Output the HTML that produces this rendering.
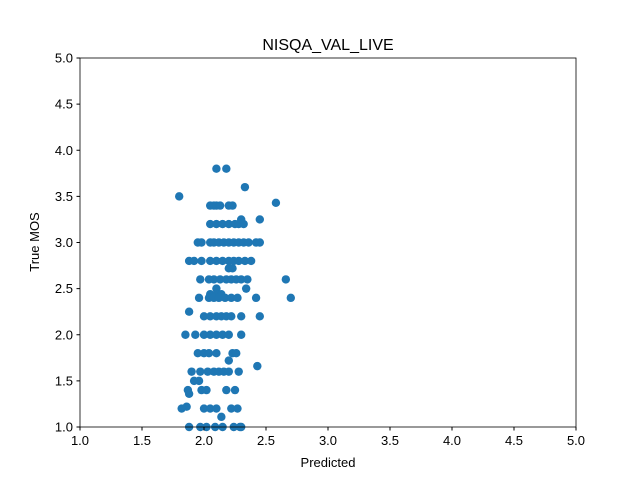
<!DOCTYPE html>
<html><head><meta charset="utf-8"><style>
body{margin:0;background:#fff}
svg text{font-family:"Liberation Sans","DejaVu Sans",sans-serif;}
</style></head><body>
<svg id="chart" width="640" height="480" xmlns="http://www.w3.org/2000/svg">
<rect width="640" height="480" fill="#fff"/>
<text x="328" y="50" font-size="16" text-anchor="middle">NISQA_VAL_LIVE</text>
<g id="points"></g>
<g id="axes"></g>
<text x="328" y="467" font-size="13" text-anchor="middle">Predicted</text>
<text x="39" y="242" font-size="13" text-anchor="middle" transform="rotate(-90 39 242)">True MOS</text>
</svg>
<script>
const rowsY = [3.8,3.6,3.5,3.43,3.4,3.25,3.2,3.0,2.8,2.72,2.6,2.5,2.44,2.4,2.25,2.2,2.0,1.8,1.72,1.66,1.6,1.5,1.4,1.36,1.22,1.2,1.11,1.0];
const rowsX = [
[2.1,2.18],[2.33],[1.8],[2.58],
[2.05,2.08,2.1,2.13,2.2,2.23],
[2.3,2.45],
[2.05,2.1,2.15,2.2,2.25,2.28,2.32],
[1.95,1.98,2.05,2.08,2.12,2.16,2.2,2.24,2.28,2.32,2.36,2.42,2.45],
[1.88,1.92,1.98,2.05,2.1,2.15,2.2,2.24,2.28,2.33,2.38],
[2.2,2.23],
[1.97,2.04,2.08,2.13,2.18,2.22,2.26,2.3,2.35,2.66],
[2.1,2.34],
[2.05,2.1,2.14],
[1.96,2.04,2.08,2.12,2.17,2.22,2.27,2.42,2.7],
[1.88],
[2.0,2.05,2.1,2.14,2.18,2.22,2.3,2.45],
[1.85,1.93,2.0,2.05,2.1,2.15,2.2,2.3],
[1.95,2.0,2.04,2.1,2.23,2.26],
[2.2],[2.43],
[1.9,1.97,2.03,2.08,2.12,2.16,2.2,2.28],
[1.92,1.96],
[1.87,1.98,2.02,2.18,2.25],
[1.88],[1.86],
[1.82,2.0,2.05,2.1,2.22,2.27],
[2.14],
[1.88,1.97,2.02,2.09,2.15,2.24,2.29,2.3]
];
const xTicks = [1.0,1.5,2.0,2.5,3.0,3.5,4.0,4.5,5.0];
const yTicks = [1.0,1.5,2.0,2.5,3.0,3.5,4.0,4.5,5.0];
const L=80,R=576,T=58,B=427;
const sx=v=>L+(v-1)/4*(R-L);
const sy=v=>B-(v-1)/4*(B-T);
const NS="http://www.w3.org/2000/svg";
const pg=document.getElementById('points');
rowsY.forEach((y,i)=>rowsX[i].forEach(x=>{
  const c=document.createElementNS(NS,'circle');
  c.setAttribute('cx',sx(x));c.setAttribute('cy',sy(y));c.setAttribute('r',4.2);c.setAttribute('fill','#1f77b4');
  
  
  pg.appendChild(c);
}));
const ag=document.getElementById('axes');
const fr=document.createElementNS(NS,'rect');
fr.setAttribute('x',L);fr.setAttribute('y',T);fr.setAttribute('width',R-L);fr.setAttribute('height',B-T);
fr.setAttribute('fill','none');fr.setAttribute('stroke','#000');fr.setAttribute('stroke-width','0.8');


ag.appendChild(fr);
xTicks.forEach(t=>{
  const l=document.createElementNS(NS,'line');
  l.setAttribute('x1',sx(t));l.setAttribute('x2',sx(t));l.setAttribute('y1',B);l.setAttribute('y2',B+3.5);l.setAttribute('stroke','#000');
  
  
  ag.appendChild(l);
  const tx=document.createElementNS(NS,'text');
  tx.setAttribute('x',sx(t));tx.setAttribute('y',B+18);tx.setAttribute('font-size','13');tx.setAttribute('text-anchor','middle');
  tx.textContent=t.toFixed(1);
  
  
  ag.appendChild(tx);
});
yTicks.forEach(t=>{
  const l=document.createElementNS(NS,'line');
  l.setAttribute('x1',L-3.5);l.setAttribute('x2',L);l.setAttribute('y1',sy(t));l.setAttribute('y2',sy(t));l.setAttribute('stroke','#000');
  
  
  ag.appendChild(l);
  const tx=document.createElementNS(NS,'text');
  tx.setAttribute('x',L-7);tx.setAttribute('y',sy(t)+4.5);tx.setAttribute('font-size','13');tx.setAttribute('text-anchor','end');
  tx.textContent=t.toFixed(1);
  
  
  ag.appendChild(tx);
});
</script>
</body></html>
